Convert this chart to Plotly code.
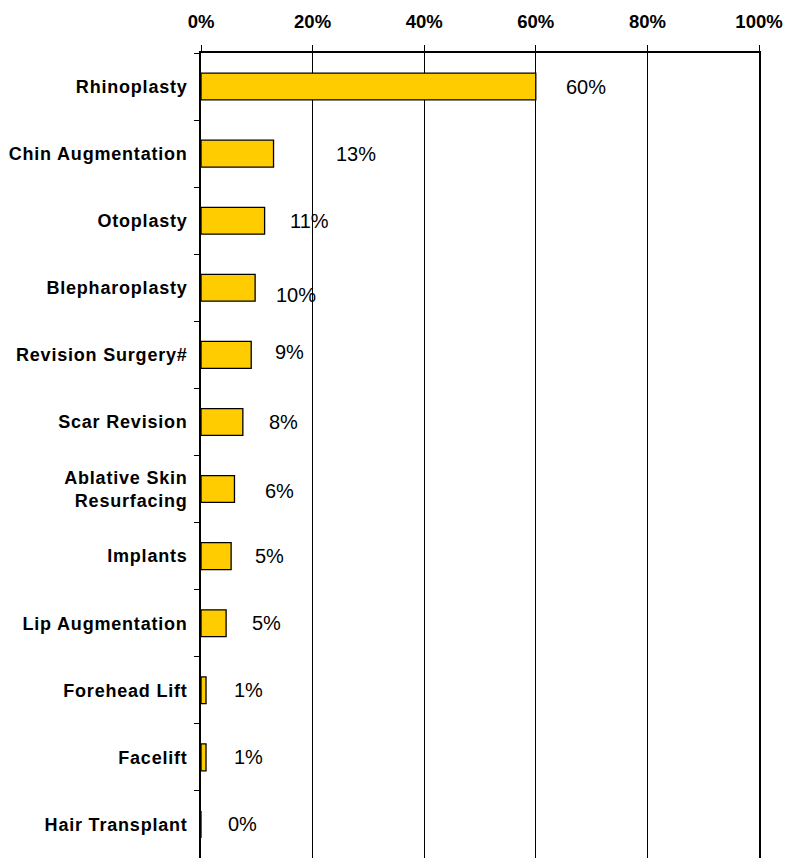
import plotly.graph_objects as go

procedures = ["Rhinoplasty", "Chin Augmentation", "Otoplasty", "Blepharoplasty",
              "Revision Surgery#", "Scar Revision", "Ablative Skin<br>Resurfacing",
              "Implants", "Lip Augmentation", "Forehead Lift", "Facelift", "Hair Transplant"]
share = [60, 13, 11.4, 9.7, 9.0, 7.5, 6.0, 5.4, 4.5, 0.9, 0.9, 0]
share_labels = ["60%", "13%", "11%", "10%", "9%", "8%", "6%", "5%", "5%", "1%", "1%", "0%"]

# label offsets as they sit in the original (px)
label_dx = [28, 60, 23, 19, 22, 24, 29, 22, 24, 26, 26, 25]
label_dy = [0, 0, 0, -7, 3, 0, -2, 0, 0, 0, 0, 0]

font_fam = "Liberation Sans, Arial, sans-serif"

fig = go.Figure(go.Bar(
    x=share, y=procedures, orientation="h",
    marker=dict(color="#FFCC00", line=dict(color="black", width=1.3)),
))

for v, cat, lab, dx, dy in zip(share, procedures, share_labels, label_dx, label_dy):
    fig.add_annotation(x=v, y=cat, text=lab, showarrow=False, xanchor="left",
                       xshift=dx, yshift=dy,
                       font=dict(family=font_fam, size=20, color="black"))

fig.update_layout(
    width=788, height=858,
    margin=dict(l=201, r=29, t=53, b=0),
    plot_bgcolor="white", paper_bgcolor="white",
    bargap=0.6, showlegend=False,
    xaxis=dict(side="top", range=[0, 100], dtick=20, ticksuffix="%",
               showgrid=True, gridcolor="black", gridwidth=1,
               showline=True, linecolor="black", linewidth=1.5,
               ticks="outside", ticklen=6, tickcolor="black",
               ticklabelstandoff=10, zeroline=False, ticklabeloverflow="allow",
               tickfont=dict(family=font_fam, size=18.5, color="black", weight="bold")),
    yaxis=dict(autorange="reversed", showgrid=False,
               showline=True, linecolor="black", linewidth=1.5, mirror=True,
               ticks="outside", ticklen=5, tickcolor="black", tickson="boundaries",
               ticklabelstandoff=8,
               tickfont=dict(family=font_fam, size=18, color="black", weight="bold")),
)

# drop the default 8px body margin so the figure fills the window exactly,
# and widen the category labels a bit like the original's spaced-out text
js = """
document.body.style.margin='0';
document.body.style.overflow='hidden';
document.querySelectorAll('.ytick text').forEach(function(t){t.style.letterSpacing='0.8px';});
"""
fig.write_html("out.html", config={"displayModeBar": False}, post_script=js)
